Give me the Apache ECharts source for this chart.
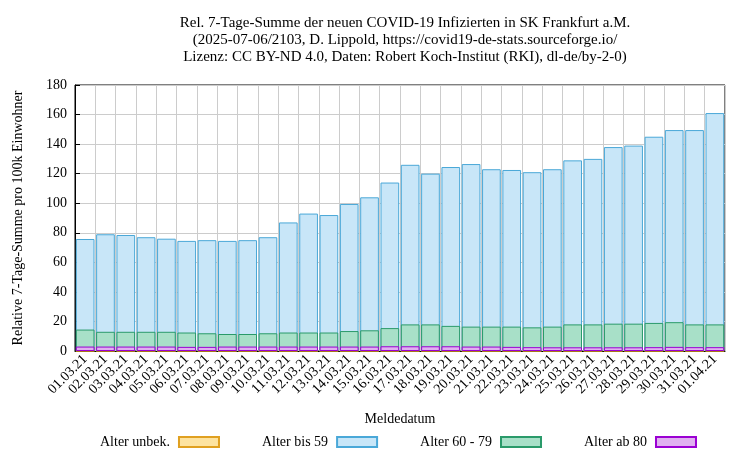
<!DOCTYPE html>
<html><head><meta charset="utf-8">
<script src="https://cdn.jsdelivr.net/npm/echarts@6/dist/echarts.min.js"></script>
<style>body{margin:0}#c{width:750px;height:450px}</style></head>
<body><div id="c"></div>
<script>
const categories=["01.03.21","02.03.21","03.03.21","04.03.21","05.03.21","06.03.21","07.03.21","08.03.21","09.03.21","10.03.21","11.03.21","12.03.21","13.03.21","14.03.21","15.03.21","16.03.21","17.03.21","18.03.21","19.03.21","20.03.21","21.03.21","22.03.21","23.03.21","24.03.21","25.03.21","26.03.21","27.03.21","28.03.21","29.03.21","30.03.21","31.03.21","01.04.21"];
const bis59=[75.8,79,78.5,77,76,74.5,75,74.5,75,77,87,93,92,99.5,104,114,126,120,124.5,126.5,123,122.5,121,123,129,130,138,139,145,149.5,149.5,161];
const a6079=[14.5,13,13,13,13,12.5,12,11.5,11.5,12,12.5,12.5,12.5,13.5,14,15.5,18,18,17,16.5,16.5,16.5,16,16.5,18,18,18.5,18.5,19,19.5,18,18];
const ab80=[3,3,3,3,3,2.8,2.8,3,3,3,3,3,3,3,3,3.2,3.2,3.2,3.2,3,3,2.8,2.6,2.5,2.5,2.5,2.5,2.5,2.6,2.8,2.6,2.6];
const unbek=categories.map(()=>0);
const F="Liberation Serif";
const mk=(name,data,fill,line)=>({name,type:'bar',data,barGap:'-100%',barCategoryGap:'8%',
  itemStyle:{color:fill,borderColor:line,borderWidth:1},emphasis:{disabled:true}});
const ch=echarts.init(document.getElementById('c'));
ch.setOption({
  animation:false,
  textStyle:{fontFamily:F},
  title:{text:"Rel. 7-Tage-Summe der neuen COVID-19 Infizierten in SK Frankfurt a.M.\n(2025-07-06/2103, D. Lippold, https://covid19-de-stats.sourceforge.io/\nLizenz: CC BY-ND 4.0, Daten: Robert Koch-Institut (RKI), dl-de/by-2-0)",
    left:400,top:10,textAlign:'center',textStyle:{fontFamily:F,fontSize:15,fontWeight:'normal',lineHeight:17,color:'#000'}},
  legend:{left:95,top:430,align:'right',icon:'rect',itemWidth:40,itemHeight:10,itemGap:42,
    textStyle:{fontFamily:F,fontSize:14,color:'#000',padding:[0,4,0,0]},
    data:["Alter unbek.","Alter bis 59","Alter 60 - 79","Alter ab 80"]},
  grid:{left:75,right:25,top:85,bottom:99,show:true,borderColor:'#000',borderWidth:1,backgroundColor:'transparent'},
  xAxis:{type:'category',data:categories,name:'Meldedatum',nameLocation:'middle',nameGap:61,
    nameTextStyle:{fontFamily:F,fontSize:14,color:'#000'},
    axisLine:{lineStyle:{color:'#000'}},axisTick:{alignWithLabel:true,lineStyle:{color:'#000'}},
    axisLabel:{rotate:45,interval:0,fontFamily:F,fontSize:14,color:'#000',margin:6},
    splitLine:{show:true,lineStyle:{color:'#ccc'}}},
  yAxis:{type:'value',min:0,max:180,interval:20,name:'Relative 7-Tage-Summe pro 100k Einwohner',
    nameLocation:'middle',nameGap:50,nameTextStyle:{fontFamily:F,fontSize:14,color:'#000'},
    axisLine:{show:true,lineStyle:{color:'#000'}},axisTick:{show:true,inside:true,lineStyle:{color:'#000'}},
    axisLabel:{fontFamily:F,fontSize:14,color:'#000'},splitLine:{lineStyle:{color:'#ccc'}}},
  series:[
    mk("Alter unbek.",unbek,'#fde3a0','#e0a020'),
    mk("Alter bis 59",bis59,'#c8e6f8','#4aa8d8'),
    mk("Alter 60 - 79",a6079,'#a8e0c8','#2a9a6a'),
    mk("Alter ab 80",ab80,'#e0b0f0','#9b00d3')
  ]
});
</script></body></html>
